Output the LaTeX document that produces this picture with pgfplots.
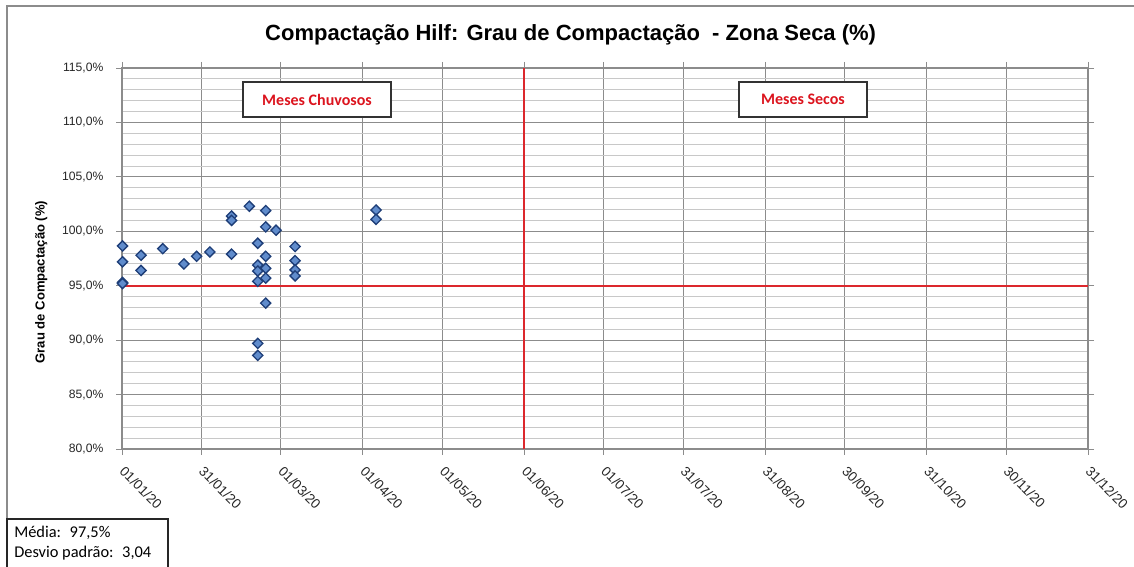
\documentclass[border=0pt]{standalone}
\usepackage{pgfplots}
\pgfplotsset{compat=1.18}
\usepackage{fontspec}
\setmainfont{Liberation Sans}
\newfontfamily\calibri{Carlito}

\definecolor{gridmaj}{RGB}{140,140,140}
\definecolor{gridmin}{RGB}{200,200,200}
\definecolor{redline}{RGB}{220,40,45}
\definecolor{markfill}{RGB}{96,140,204}
\definecolor{markedge}{RGB}{30,62,120}
\definecolor{boxred}{RGB}{220,20,30}

% Ensaios de compactação Hilf: dia do ano (0 = 01/01/20) e grau de compactação (%)
\pgfplotstableread{
dia   gc
0.2   98.65
0.2   97.2
0.2   95.3
0.2   95.2
7.2   97.8
7.2   96.4
15.4  98.4
23.4  97.0
28.2  97.7
33.2  98.1
41.4  101.4
41.4  101.0
41.4  97.9
48.1  102.3
54.3  101.9
54.3  100.4
58.2  100.1
51.3  98.9
54.3  97.7
51.3  96.9
51.3  96.35
54.3  96.6
54.3  95.7
51.3  95.4
54.3  93.4
51.3  89.7
51.3  88.6
65.4  98.6
65.4  97.3
65.4  96.45
65.4  95.9
96.0  101.95
96.0  101.1
}\ensaios

\begin{document}
\begin{tikzpicture}
% moldura da área do gráfico
\draw[gridmaj, line width=0.9bp] (5.25bp,0) -- (5.25bp,420.75bp) -- (850.5bp,420.75bp);

\begin{axis}[
  at={(91.5bp,88.5bp)}, anchor=south west,
  scale only axis, width=724.5bp, height=285.75bp,
  xmin=0, xmax=365, ymin=80, ymax=115,
  xtick={0,30,60,91,121,152,182,212,243,273,304,334,365},
  xticklabels={01/01/20,31/01/20,01/03/20,01/04/20,01/05/20,01/06/20,01/07/20,31/07/20,31/08/20,30/09/20,31/10/20,30/11/20,31/12/20},
  ytick={80,85,...,115},
  minor y tick num=4,
  yticklabel={\pgfmathprintnumber[fixed,fixed zerofill,precision=1,use comma]{\tick}\%},
  /pgf/number format/assume math mode=true,
  tick label style={font=\fontsize{9.1bp}{10bp}\selectfont, text=black!85},
  xticklabel style={font=\fontsize{10.2bp}{11bp}\selectfont, rotate=-45, anchor=north west, xshift=4bp, yshift=0bp},
  yticklabel style={xshift=-6bp},
  tick align=outside,
  major tick length=4.5bp, minor tick length=0pt,
  tick style={gridmaj, line width=0.7bp},
  grid=both,
  major grid style={gridmaj, line width=0.7bp},
  minor grid style={gridmin, line width=0.7bp},
  axis line style={gridmaj, line width=0.8bp},
  clip=false,
]
  % limites de referência: 95 % e início dos meses secos
  \addplot[draw=redline, line width=1.3bp] coordinates {(0,95) (365,95)};
  \addplot[draw=redline, line width=1.3bp] coordinates {(152,80) (152,115)};
  \addplot[only marks, mark=square*, mark size=2.7bp,
    mark options={rotate=45, fill=markfill, draw=markedge, line width=1bp}]
    table[x=dia, y=gc] {\ensaios};
\end{axis}

% caixas de período
\node[draw=black!80, line width=0.9bp, fill=white, minimum width=111bp, minimum height=26.25bp,
  inner sep=0pt, font=\calibri\bfseries\fontsize{12bp}{13bp}\selectfont, text=boxred]
  at (237.75bp,350.6bp) {Meses Chuvosos};
\node[draw=black!80, line width=0.9bp, fill=white, minimum width=96bp, minimum height=26.25bp,
  inner sep=0pt, font=\calibri\bfseries\fontsize{12bp}{13bp}\selectfont, text=boxred]
  at (602.25bp,350.6bp) {Meses Secos};

% título e rótulo do eixo vertical
\node[font=\bfseries\fontsize{16.5bp}{18bp}\selectfont] at (428bp,399bp) {Compactação Hilf: Grau de Compactação \ - Zona Seca (\%)};
\node[font=\bfseries\fontsize{9.8bp}{12bp}\selectfont, rotate=90] at (31bp,213.75bp) {Grau de Compactação (\%)};

% estatísticas
\draw[black!85, line width=0.9bp, fill=white] (5.25bp,-2bp) rectangle (126bp,36bp);
\node[anchor=west, font=\calibri\fontsize{12.3bp}{14bp}\selectfont, inner sep=0pt] at (10.5bp,25.5bp) {Média: \ 97,5\%};
\node[anchor=west, font=\calibri\fontsize{12.3bp}{14bp}\selectfont, inner sep=0pt] at (10.5bp,10.5bp) {Desvio padrão: \ 3,04};

\pgfresetboundingbox
\useasboundingbox (0,0) rectangle (850.5bp,425.25bp);
\end{tikzpicture}
\end{document}
